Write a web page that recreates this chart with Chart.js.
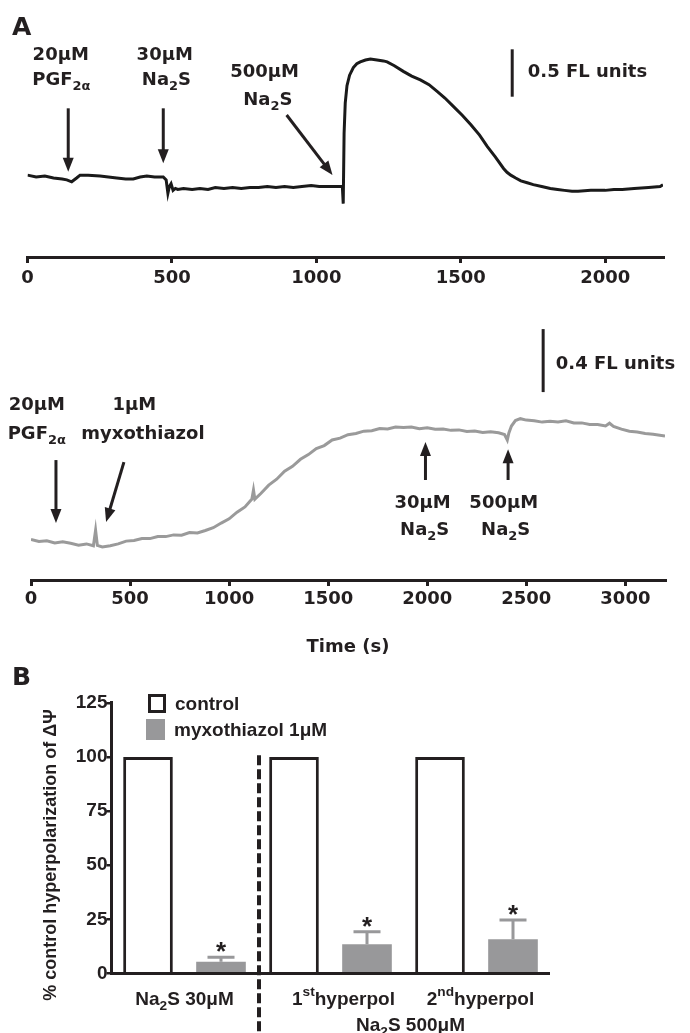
<!DOCTYPE html>
<html>
<head>
<meta charset="utf-8">
<title>Na2S and membrane potential</title>
<script src="https://cdn.jsdelivr.net/npm/chart.js@4.4.1/dist/chart.umd.min.js"></script>
<style>
  html, body { margin: 0; padding: 0; background: #fff; }
  #fig { position: relative; width: 690px; height: 1033px; overflow: hidden; }
  #fig canvas { position: absolute; left: 0; }
</style>
</head>
<body>
<div id="fig">
  <canvas id="trace-top" width="690" height="300" style="top:0px"></canvas>
  <canvas id="trace-bottom" width="690" height="360" style="top:300px"></canvas>
  <canvas id="bars" width="690" height="373" style="top:660px"></canvas>
</div>
<script>
// panel A, upper trace: PGF2a then 30 / 500 uM Na2S (FL units)
var timeTop = [0, 30, 60, 90, 120, 136, 153, 170, 182, 210, 251, 280, 309, 340, 366, 390, 413, 440, 470, 480,
  486, 491, 497, 504, 512, 520, 540, 570, 597, 625, 650, 680, 710, 740, 770, 800, 830, 860, 890, 920,
  950, 982, 1010, 1040, 1065, 1090, 1093, 1096, 1100, 1106, 1115, 1128, 1140, 1152, 1170, 1187, 1210, 1232, 1245, 1270,
  1301, 1330, 1360, 1390, 1418, 1445, 1475, 1505, 1535, 1565, 1592, 1620, 1648, 1660, 1673, 1690, 1708, 1730, 1751, 1780,
  1810, 1835, 1859, 1885, 1906, 1950, 2000, 2030, 2059, 2100, 2150, 2190, 2200];
var flTop = [0.86, 0.84, 0.85, 0.83, 0.82, 0.81, 0.79, 0.83, 0.86, 0.86, 0.85, 0.84, 0.83, 0.82, 0.82, 0.84, 0.85, 0.84, 0.84, 0.81,
  0.67, 0.74, 0.77, 0.70, 0.72, 0.71, 0.72, 0.71, 0.72, 0.71, 0.73, 0.72, 0.73, 0.72, 0.73, 0.73, 0.74, 0.73, 0.74, 0.73,
  0.74, 0.75, 0.74, 0.74, 0.74, 0.74, 0.56, 1.30, 1.62, 1.80, 1.91, 1.99, 2.03, 2.05, 2.07, 2.08, 2.07, 2.06, 2.05, 2.01,
  1.95, 1.90, 1.86, 1.81, 1.74, 1.67, 1.58, 1.49, 1.39, 1.28, 1.16, 1.05, 0.93, 0.89, 0.86, 0.83, 0.80, 0.78, 0.76, 0.74,
  0.72, 0.71, 0.70, 0.69, 0.69, 0.70, 0.70, 0.71, 0.71, 0.72, 0.73, 0.74, 0.76];

// panel A, lower trace: PGF2a, myxothiazol, then Na2S
var timeBottom = [0, 40, 80, 120, 160, 200, 240, 280, 315, 326, 335, 360, 400, 440, 480, 520, 560, 600, 640, 680,
  720, 760, 800, 840, 880, 920, 960, 1000, 1040, 1080, 1115, 1123, 1130, 1160, 1200, 1240, 1280, 1320, 1360, 1400,
  1440, 1480, 1520, 1560, 1600, 1640, 1680, 1720, 1760, 1800, 1840, 1880, 1920, 1960, 2000, 2040, 2080, 2120, 2160, 2200,
  2240, 2280, 2320, 2360, 2390, 2404, 2412, 2425, 2445, 2470, 2500, 2540, 2580, 2620, 2660, 2700, 2740, 2780, 2820, 2860,
  2900, 2920, 2940, 2980, 3020, 3060, 3100, 3140, 3200];
var flBottom = [0.260, 0.248, 0.252, 0.238, 0.246, 0.236, 0.224, 0.232, 0.220, 0.320, 0.222, 0.212, 0.220, 0.232, 0.250, 0.254, 0.266, 0.266, 0.280, 0.279,
  0.290, 0.288, 0.305, 0.302, 0.318, 0.336, 0.366, 0.393, 0.436, 0.470, 0.520, 0.578, 0.520, 0.556, 0.610, 0.648, 0.700, 0.731, 0.776, 0.806,
  0.845, 0.864, 0.900, 0.912, 0.934, 0.942, 0.957, 0.960, 0.974, 0.971, 0.984, 0.980, 0.983, 0.972, 0.978, 0.969, 0.971, 0.962, 0.965, 0.955,
  0.958, 0.949, 0.953, 0.946, 0.935, 0.900, 0.945, 0.990, 1.025, 1.037, 1.028, 1.024, 1.015, 1.020, 1.016, 1.024, 1.010, 1.010, 1.000, 1.000,
  0.990, 1.008, 0.988, 0.970, 0.956, 0.952, 0.942, 0.937, 0.925];

var xTicksTop = [0, 500, 1000, 1500, 2000];
var xTicksBottom = [0, 500, 1000, 1500, 2000, 2500, 3000];

// panel B
var groups = ["Na_{2}S 30μM", "1^{st}hyperpol", "2^{nd}hyperpol"];
var doseNote = "Na_{2}S 500μM";
var controlVals = [100, 100, 100];
var myxoVals = [5.4, 13.5, 15.8];
var myxoErr = [2.1, 5.8, 8.9];
var yTicksB = [0, 25, 50, 75, 100, 125];
var yTitleB = "% control hyperpolarization of ΔΨ";

var INK = '#231f20';
var GREY = '#98989a';
var FONT_A = '"DejaVu Sans", sans-serif';
var FONT_B = '"Liberation Sans", Arial, sans-serif';

// "Na_{2}S" -> sub, "1^{st}" -> sup
function parseRich(str) {
  return str.split(/(_\{[^}]*\}|\^\{[^}]*\})/).filter(Boolean).map(function(p) {
    if (p[0] == '_') return {t: p.slice(2, -1), k: 'sub'};
    if (p[0] == '^') return {t: p.slice(2, -1), k: 'sup'};
    return {t: p, k: ''};
  });
}

function drawRich(ctx, str, x, base, size, family, align) {
  var parts = parseRich(str);
  var w = 0;
  parts.forEach(function(p) {
    p.size = p.k ? size * 0.72 : size;
    ctx.font = 'bold ' + p.size + 'px ' + family;
    p.w = ctx.measureText(p.t).width;
    w += p.w;
  });
  var cx = align == 'left' ? x : x - w / 2;
  ctx.textAlign = 'left';
  ctx.textBaseline = 'alphabetic';
  parts.forEach(function(p) {
    ctx.font = 'bold ' + p.size + 'px ' + family;
    var dy = p.k == 'sub' ? size * 0.28 : (p.k == 'sup' ? -size * 0.5 : 0);
    ctx.fillText(p.t, cx, base + dy);
    cx += p.w;
  });
}

function arrow(ctx, x1, y1, x2, y2) {
  var a = Math.atan2(y2 - y1, x2 - x1), head = 14, half = 5.5;
  var c = Math.cos(a), s = Math.sin(a);
  ctx.save();
  ctx.strokeStyle = INK;
  ctx.fillStyle = INK;
  ctx.lineWidth = 3;
  ctx.beginPath();
  ctx.moveTo(x1, y1);
  ctx.lineTo(x2 - c * head * 0.8, y2 - s * head * 0.8);
  ctx.stroke();
  ctx.beginPath();
  ctx.moveTo(x2, y2);
  ctx.lineTo(x2 - c * head - s * half, y2 - s * head + c * half);
  ctx.lineTo(x2 - c * head + s * half, y2 - s * head - c * half);
  ctx.closePath();
  ctx.fill();
  ctx.restore();
}

// labels, arrows and scale bar of a trace, all placed in data units
function traceNotes(notes) {
  return {
    id: 'traceNotes',
    afterDraw: function(chart) {
      var ctx = chart.ctx, xs = chart.scales.x, ys = chart.scales.y;
      var capH = 0.729 * 18;
      ctx.save();
      ctx.fillStyle = INK;
      notes.labels.forEach(function(l) {
        drawRich(ctx, l.text, xs.getPixelForValue(l.x), ys.getPixelForValue(l.y) + capH / 2, 18, FONT_A, l.align || 'center');
      });
      notes.arrows.forEach(function(a) {
        arrow(ctx, xs.getPixelForValue(a[0]), ys.getPixelForValue(a[1]), xs.getPixelForValue(a[2]), ys.getPixelForValue(a[3]));
      });
      var b = notes.bar;
      ctx.strokeStyle = INK;
      ctx.lineWidth = 3;
      ctx.beginPath();
      ctx.moveTo(xs.getPixelForValue(b[0]), ys.getPixelForValue(b[1]));
      ctx.lineTo(xs.getPixelForValue(b[0]), ys.getPixelForValue(b[2]));
      ctx.stroke();
      if (notes.letter) {
        ctx.fillStyle = INK;
        ctx.font = 'bold 25px ' + FONT_A;
        ctx.textAlign = 'left';
        ctx.textBaseline = 'alphabetic';
        ctx.fillText(notes.letter, 12, 35);
      }
      ctx.restore();
    }
  };
}

function traceChart(id, times, vals, color, xmax, xticks, ymax, pad, axisH, labelPad, title, notes) {
  return new Chart(document.getElementById(id), {
    type: 'line',
    data: {
      datasets: [{
        data: times.map(function(t, i) { return {x: t, y: vals[i]}; }),
        borderColor: color,
        borderWidth: 3,
        pointRadius: 0,
        tension: 0,
        fill: false
      }]
    },
    options: {
      responsive: false,
      animation: false,
      layout: {padding: pad},
      plugins: {legend: {display: false}, tooltip: {enabled: false}},
      scales: {
        x: {
          type: 'linear', min: 0, max: xmax,
          afterBuildTicks: function(s) { s.ticks = xticks.map(function(v) { return {value: v}; }); },
          afterFit: function(s) { s.height = axisH; },
          grid: {drawOnChartArea: false, drawTicks: true, tickLength: 6, color: INK, lineWidth: 3},
          border: {display: true, color: INK, width: 3},
          ticks: {color: INK, padding: labelPad, maxRotation: 0,
                  callback: function(v) { return String(v); },
                  font: {family: FONT_A, weight: 'bold', size: 18}},
          title: {display: !!title, text: title, color: INK, padding: {top: 0, bottom: 2},
                  font: {family: FONT_A, weight: 'bold', size: 18}}
        },
        y: {display: false, min: 0, max: ymax}
      }
    },
    plugins: [traceNotes(notes)]
  });
}

traceChart('trace-top', timeTop, flTop, '#1a1a1a', 2200, xTicksTop, 2.7,
  {left: 27.5, right: 27, top: 0, bottom: 0}, 43, 5, '', {
    letter: 'A',
    labels: [
      {text: '20μM', x: 115, y: 2.143}, {text: 'PGF_{2α}', x: 117, y: 1.877},
      {text: '30μM', x: 475, y: 2.143}, {text: 'Na_{2}S', x: 481, y: 1.877},
      {text: '500μM', x: 821, y: 1.961}, {text: 'Na_{2}S', x: 832, y: 1.662},
      {text: '0.5 FL units', x: 1732, y: 1.961, align: 'left'}
    ],
    arrows: [[141, 1.562, 141, 0.896], [470, 1.562, 470, 0.984], [897, 1.492, 1056, 0.861]],
    bar: [1678, 1.684, 2.182]
  });

traceChart('trace-bottom', timeBottom, flBottom, '#9a9a9a', 3200, xTicksBottom, 1.8,
  {left: 31, right: 25, top: 0, bottom: 0}, 80, 3, 'Time (s)', {
    labels: [
      {text: '20μM', x: 29, y: 1.136}, {text: 'PGF_{2α}', x: 29, y: 0.95},
      {text: '1μM', x: 522, y: 1.136}, {text: 'myxothiazol', x: 565, y: 0.95},
      {text: '30μM', x: 1976, y: 0.503}, {text: 'Na_{2}S', x: 1987, y: 0.329},
      {text: '500μM', x: 2386, y: 0.503}, {text: 'Na_{2}S', x: 2396, y: 0.329},
      {text: '0.4 FL units', x: 2649, y: 1.398, align: 'left'}
    ],
    arrows: [[126, 0.771, 126, 0.366], [469, 0.758, 379, 0.373], [1991, 0.643, 1991, 0.887], [2408, 0.643, 2408, 0.840]],
    bar: [2585, 1.208, 1.613]
  });

// error bars, asterisks, separator, group labels, legend, axis title
var barNotes = {
  id: 'barNotes',
  afterDraw: function(chart) {
    var ctx = chart.ctx, xs = chart.scales.x, ys = chart.scales.y;
    var myxo = chart.getDatasetMeta(1);
    var ds = chart.data.datasets;
    ctx.save();
    myxo.data.forEach(function(bar, i) {
      var top = ys.getPixelForValue(myxoVals[i] + myxoErr[i]);
      ctx.strokeStyle = GREY;
      ctx.lineWidth = 3;
      ctx.beginPath();
      ctx.moveTo(bar.x, bar.y);
      ctx.lineTo(bar.x, top);
      ctx.moveTo(bar.x - 13.5, top);
      ctx.lineTo(bar.x + 13.5, top);
      ctx.stroke();
      ctx.fillStyle = INK;
      ctx.font = 'bold 26px ' + FONT_B;
      ctx.textAlign = 'center';
      ctx.textBaseline = 'alphabetic';
      ctx.fillText('*', bar.x, top + 3);
    });

    // dashed separator between the two doses
    var sep = (xs.getPixelForValue(0) + xs.getPixelForValue(1)) / 2 + 1.5;
    ctx.strokeStyle = INK;
    ctx.lineWidth = 4;
    ctx.setLineDash([10, 4]);
    ctx.beginPath();
    ctx.moveTo(sep, ys.getPixelForValue(100.8));
    ctx.lineTo(sep, chart.height);
    ctx.stroke();
    ctx.setLineDash([]);

    // group labels
    ctx.fillStyle = INK;
    var nudge = [0, 13, 4];
    groups.forEach(function(g, i) {
      drawRich(ctx, g, xs.getPixelForValue(i) + nudge[i], 345, 19, FONT_B, 'center');
    });
    drawRich(ctx, doseNote, (xs.getPixelForValue(1) + xs.getPixelForValue(2)) / 2 + 7, 371, 19, FONT_B, 'center');

    // legend
    ctx.fillStyle = ds[0].backgroundColor;
    ctx.fillRect(149.5, 35.5, 15, 16);
    ctx.strokeStyle = ds[0].borderColor;
    ctx.lineWidth = 3;
    ctx.strokeRect(149.5, 35.5, 15, 16);
    ctx.fillStyle = ds[1].backgroundColor;
    ctx.fillRect(146, 59, 19, 21);
    ctx.fillStyle = INK;
    ctx.font = 'bold 19px ' + FONT_B;
    ctx.textAlign = 'left';
    ctx.textBaseline = 'alphabetic';
    ctx.fillText(ds[0].label, 175, 50);
    ctx.fillText(ds[1].label, 174, 76);

    // y axis title
    ctx.save();
    ctx.translate(56, 195);
    ctx.rotate(-Math.PI / 2);
    ctx.font = 'bold 18px ' + FONT_B;
    ctx.textAlign = 'center';
    ctx.fillText(yTitleB, 0, 0);
    ctx.restore();

    ctx.font = 'bold 25px ' + FONT_A;
    ctx.textAlign = 'left';
    ctx.fillText('B', 12, 25);
    ctx.restore();
  }
};

new Chart(document.getElementById('bars'), {
  type: 'bar',
  data: {
    labels: groups,
    datasets: [
      {label: 'control', data: controlVals, backgroundColor: '#ffffff', borderColor: INK, borderWidth: 3,
       categoryPercentage: 1, barPercentage: 0.68},
      {label: 'myxothiazol 1μM', data: myxoVals, backgroundColor: GREY, borderWidth: 0,
       categoryPercentage: 1, barPercentage: 0.68}
    ]
  },
  options: {
    responsive: false,
    animation: false,
    layout: {padding: {left: 0, right: 140.5, top: 42.9, bottom: 0}},
    plugins: {legend: {display: false}, tooltip: {enabled: false}},
    scales: {
      x: {
        ticks: {display: false},
        grid: {drawOnChartArea: false, drawTicks: false},
        border: {display: true, color: INK, width: 3, z: 1},
        afterFit: function(s) { s.height = 59.5; }
      },
      y: {
        min: 0, max: 125,
        afterBuildTicks: function(s) { s.ticks = yTicksB.map(function(v) { return {value: v}; }); },
        afterFit: function(s) { s.width = 111.5; },
        grid: {drawOnChartArea: false, drawTicks: true, tickLength: 5, color: INK, lineWidth: 2.5},
        border: {display: true, color: INK, width: 3, z: 1},
        ticks: {color: INK, padding: -1, font: {family: FONT_B, weight: 'bold', size: 19}}
      }
    }
  },
  plugins: [barNotes]
});
</script>
</body>
</html>
